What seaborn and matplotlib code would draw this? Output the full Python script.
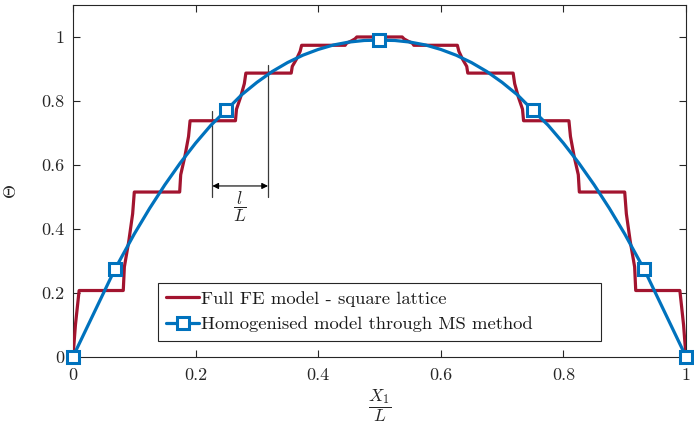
import numpy as np
import pandas as pd
import matplotlib
matplotlib.use("Agg")
import matplotlib.pyplot as plt
from matplotlib.lines import Line2D
import seaborn as sns

# ---------------- data ----------------
# Full FE model - square lattice (stepped profile)
fe_x = [0.000, 0.004, 0.010, 0.082, 0.0838, 0.091, 0.0973, 0.100,
        0.174, 0.1757, 0.1825, 0.1885, 0.191,
        0.265, 0.2667, 0.2735, 0.2795, 0.282,
        0.356, 0.3577, 0.3645, 0.3705, 0.373,
        0.444, 0.446, 0.4535, 0.460, 0.463,
        0.537, 0.540, 0.5465, 0.554, 0.556,
        0.627, 0.6295, 0.6355, 0.6423, 0.644,
        0.718, 0.7205, 0.7265, 0.7333, 0.735,
        0.809, 0.8115, 0.8175, 0.8243, 0.826,
        0.900, 0.9027, 0.909, 0.9162, 0.918,
        0.990, 0.996, 1.000]
fe_y = [0.000, 0.100, 0.207, 0.207, 0.281, 0.361, 0.447, 0.515,
        0.515, 0.569, 0.6265, 0.689, 0.738,
        0.738, 0.774, 0.8125, 0.854, 0.887,
        0.887, 0.908, 0.9305, 0.955, 0.974,
        0.974, 0.980, 0.987, 0.994, 1.000,
        1.000, 0.994, 0.987, 0.980, 0.974,
        0.974, 0.955, 0.9305, 0.908, 0.887,
        0.887, 0.854, 0.8125, 0.774, 0.738,
        0.738, 0.689, 0.6265, 0.569, 0.515,
        0.515, 0.447, 0.361, 0.281, 0.207,
        0.207, 0.100, 0.000]

# Homogenised model through MS method
ms_x = [0.000, 0.0682, 0.100, 0.125, 0.150, 0.175, 0.200, 0.225, 0.250,
        0.275, 0.300, 0.325, 0.350, 0.375, 0.400, 0.425, 0.450, 0.475,
        0.500,
        0.525, 0.550, 0.575, 0.600, 0.625, 0.650, 0.675, 0.700, 0.725,
        0.750, 0.775, 0.800, 0.825, 0.850, 0.875, 0.900, 0.9318, 1.000]
ms_y = [0.000, 0.273, 0.384, 0.464, 0.538, 0.606, 0.668, 0.724, 0.771,
        0.819, 0.858, 0.892, 0.920, 0.943, 0.961, 0.975, 0.984, 0.989,
        0.990,
        0.989, 0.984, 0.975, 0.961, 0.943, 0.920, 0.892, 0.858, 0.819,
        0.771, 0.724, 0.668, 0.606, 0.538, 0.464, 0.384, 0.273, 0.000]
ms_marker_x = [0.000, 0.0682, 0.250, 0.500, 0.750, 0.9318, 1.000]

# annotation of the cell size l/L
cell_lines_x = [2.5 / 11, 3.5 / 11]
cell_lines_top = [0.767, 0.913]
cell_lines_bottom = 0.499
cell_arrow_y = 0.534

xticks = [0, 0.2, 0.4, 0.6, 0.8, 1]
xticklabels = ["0", "0.2", "0.4", "0.6", "0.8", "1"]
yticks = [0, 0.2, 0.4, 0.6, 0.8, 1]
yticklabels = ["0", "0.2", "0.4", "0.6", "0.8", "1"]

labels = ["Full FE model - square lattice",
          "Homogenised model through MS method"]

# ---------------- style ----------------
sns.set_theme(style="white")
plt.rcParams["font.family"] = ["cmr10", "DejaVu Serif"]
plt.rcParams["mathtext.fontset"] = "cm"
plt.rcParams["axes.unicode_minus"] = False
plt.rcParams["axes.formatter.use_mathtext"] = True

RED = "#A2142F"
BLUE = "#0072BD"
FRAME = "#262626"

fig = plt.figure(figsize=(6.94, 4.24), dpi=100)
ax = fig.add_axes([73 / 694, 67.3 / 424, 613 / 694, 351.7 / 424])

fe = pd.DataFrame({"x": fe_x, "y": fe_y})
ms = pd.DataFrame({"x": ms_x, "y": ms_y})
mark_idx = [ms_x.index(v) for v in ms_marker_x]

sns.lineplot(data=fe, x="x", y="y", sort=False, estimator=None, ax=ax,
             color=RED, linewidth=2.3, legend=False, zorder=3)
sns.lineplot(data=ms, x="x", y="y", sort=False, estimator=None, ax=ax,
             color=BLUE, linewidth=2.3, legend=False, zorder=4,
             marker="s", markevery=mark_idx, markersize=8.5,
             markerfacecolor="white", markeredgecolor=BLUE,
             markeredgewidth=2.2, clip_on=False)

# cell-size annotation
for xv, top in zip(cell_lines_x, cell_lines_top):
    ax.plot([xv, xv], [cell_lines_bottom, top], color="#3a3a3a",
            linewidth=0.9, zorder=2)
ax.annotate("", xy=(cell_lines_x[1], cell_arrow_y),
            xytext=(cell_lines_x[0], cell_arrow_y),
            arrowprops=dict(arrowstyle="<|-|>", color="black", lw=0.8,
                            mutation_scale=9, shrinkA=0, shrinkB=0),
            zorder=2)
ax.text(np.mean(cell_lines_x), 0.468, r"$\dfrac{l}{L}$", ha="center",
        va="center", fontsize=12.5, color="#262626")

ax.set_xlim(0, 1)
ax.set_ylim(0, 1.1)
ax.set_xticks(xticks)
ax.set_xticklabels(xticklabels)
ax.set_yticks(yticks)
ax.set_yticklabels(yticklabels)
ax.tick_params(axis="both", which="both", direction="in", length=5,
               width=0.8, color=FRAME, labelcolor=FRAME, labelsize=13,
               top=True, right=True, bottom=True, left=True)
ax.tick_params(axis="x", pad=8)
ax.tick_params(axis="y", pad=6)
for s in ax.spines.values():
    s.set_visible(True)
    s.set_color(FRAME)
    s.set_linewidth(0.8)

ax.set_xlabel(r"$\dfrac{X_1}{L}$", fontsize=12.5, color=FRAME)
ax.xaxis.set_label_coords(0.5, -0.087)
ax.set_ylabel(r"$\Theta$", fontsize=13, color=FRAME)
ax.yaxis.set_label_coords(-0.088, 0.47)

handles = [Line2D([], [], color=RED, linewidth=2.3),
           Line2D([], [], color=BLUE, linewidth=2.3, marker="s",
                  markersize=8.5, markerfacecolor="white",
                  markeredgecolor=BLUE, markeredgewidth=2.2)]
leg = ax.legend(handles, labels, loc="lower left",
                bbox_to_anchor=(0.1387, 0.0455, 0.7223, 0.163),
                mode="expand", fontsize=13.4, frameon=True, fancybox=False,
                edgecolor=FRAME, framealpha=1, numpoints=1,
                handlelength=1.75, handletextpad=0.12, borderpad=0.45,
                labelspacing=0.5, borderaxespad=0)
leg.get_frame().set_linewidth(0.8)
for t in leg.get_texts():
    t.set_color("#1a1a1a")

fig.savefig("out.png", dpi=100)
